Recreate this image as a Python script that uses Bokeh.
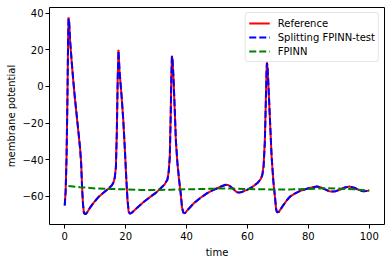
from bokeh.plotting import figure
from bokeh.models import Range1d, FixedTicker, Legend, LegendItem
from bokeh.embed import file_html
from bokeh.resources import INLINE

# ---- data ----
t_reference = [0.0, 0.3, 0.6, 0.9, 1.1, 1.25, 1.45, 1.8, 2.3, 2.8, 3.3, 3.8, 4.3, 4.8, 5.1, 5.4, 5.7, 6.0, 6.3,
               6.8, 7.5, 8.2, 9.5, 11.2, 12.9, 14.5, 15.5, 16.0, 16.4, 16.8, 17.1, 17.4, 17.65, 18.0, 18.6,
               19.2, 19.7, 20.2, 20.6, 21.0, 21.4, 22.0, 23.0, 23.8, 26.0, 28.2, 30.0, 31.5, 32.8, 33.7, 34.1,
               34.5, 34.8, 35.0, 35.2, 35.4, 35.7, 36.1, 36.5, 37.0, 37.6, 38.1, 38.5, 38.9, 39.5, 40.5, 42.4,
               44.6, 46.8, 48.5, 50.1, 51.5, 52.8, 53.6, 54.4, 55.5, 56.5, 57.2, 58.2, 59.9, 61.5, 63.2, 64.4,
               64.9, 65.3, 65.7, 66.0, 66.25, 66.4, 66.6, 66.9, 67.3, 67.9, 68.5, 69.0, 69.4, 69.7, 70.3, 71.5,
               73.0, 74.1, 75.5, 77.4, 78.5, 80.0, 81.5, 82.8, 84.0, 85.5, 86.8, 87.8, 89.0, 90.5, 92.0, 93.5,
               95.0, 96.5, 98.0, 99.0, 100.0]
v_reference = [-65.0, -57.0, -38.0, -5.0, 25.0, 37.7, 35.0, 24.0, 13.0, 3.0, -6.0, -14.0, -22.0, -30.0, -35.0,
               -42.0, -55.0, -64.0, -69.0, -69.8, -68.5, -66.5, -63.5, -60.2, -57.8, -55.6, -54.0, -52.5, -50.0,
               -44.0, -25.0, 5.0, 20.0, 8.0, -4.0, -18.0, -33.0, -50.0, -62.0, -68.5, -69.5, -69.0, -67.5, -66.2,
               -63.0, -60.2, -58.0, -55.6, -53.5, -51.0, -47.0, -38.0, -15.0, 5.0, 16.8, 14.0, 5.0, -12.0, -30.0,
               -42.0, -52.0, -59.0, -66.0, -69.0, -69.2, -67.2, -63.8, -60.8, -58.3, -56.8, -55.6, -54.5, -53.8,
               -53.8, -54.7, -56.3, -57.8, -58.0, -57.6, -56.5, -55.0, -52.9, -50.5, -48.0, -43.0, -30.0, -10.0,
               8.0, 13.2, 10.0, 0.0, -15.0, -37.5, -52.0, -60.0, -67.0, -68.8, -68.5, -65.5, -62.0, -60.0, -58.5,
               -57.0, -56.5, -55.6, -55.0, -54.7, -55.0, -56.2, -57.2, -57.4, -57.2, -56.3, -55.2, -54.7, -55.3,
               -56.5, -57.2, -57.1, -56.9]

t_splitting = t_reference
v_splitting = [-65.0, -57.5, -39.0, -6.0, 24.0, 37.0, 35.5, 24.5, 13.5, 3.5, -5.5, -13.5, -21.5, -29.5, -35.0,
               -42.5, -55.5, -64.5, -69.2, -69.8, -68.5, -66.5, -63.5, -60.2, -57.8, -55.6, -54.0, -52.5, -50.2,
               -44.5, -26.0, 4.0, 19.5, 8.5, -3.5, -17.5, -32.5, -49.5, -61.5, -68.3, -69.5, -69.0, -67.5, -66.2,
               -63.0, -60.2, -58.0, -55.6, -53.5, -51.0, -47.5, -39.0, -16.0, 4.0, 16.5, 14.5, 5.5, -11.5, -29.5,
               -41.5, -51.5, -58.5, -65.5, -68.8, -69.2, -67.2, -63.8, -60.8, -58.3, -56.8, -55.6, -54.5, -53.7,
               -53.7, -54.6, -56.2, -57.7, -58.0, -57.6, -56.5, -55.0, -52.9, -50.6, -48.3, -44.0, -31.0, -11.0,
               7.0, 12.8, 10.5, 0.5, -14.5, -37.0, -51.5, -59.5, -66.7, -68.7, -68.5, -65.5, -62.0, -60.0, -58.5,
               -57.0, -56.5, -55.6, -55.0, -54.7, -55.0, -56.2, -57.2, -57.4, -57.2, -56.3, -55.2, -54.7, -55.3,
               -56.5, -57.2, -57.1, -56.9]

t_fpinn = [1.2, 5, 10, 15, 20, 25, 30, 35, 40, 45, 50, 55, 60, 65, 70, 75, 80, 85, 90, 95, 100]
v_fpinn = [-54.4, -55.0, -55.7, -56.0, -56.2, -56.5, -56.6, -56.4, -56.2, -56.0, -55.8, -55.8, -56.0, -56.2,
           -56.3, -56.2, -56.0, -55.6, -55.8, -56.2, -56.8]

x_ticks = [0, 20, 40, 60, 80, 100]
y_ticks = [-60, -40, -20, 0, 20, 40]

labels = ["Reference", "Splitting FPINN-test", "FPINN"]
x_label = "time"
y_label = "membrane potential"

FONT = "DejaVu Sans"

p = figure(width=391, height=262, output_backend="svg", toolbar_location=None,
           x_range=Range1d(-5, 105), y_range=Range1d(-75.4, 43.1),
           min_border_left=49, min_border_right=7, min_border_top=7, min_border_bottom=38)

p.background_fill_color = "white"
p.border_fill_color = "white"
p.outline_line_color = "black"
p.outline_line_width = 1
p.xgrid.visible = False
p.ygrid.visible = False

r_ref = p.line(t_reference, v_reference, line_color="red", line_width=2)
r_spl = p.line(t_splitting, v_splitting, line_color="blue", line_width=2, line_dash="7 3")
r_fp = p.line(t_fpinn, v_fpinn, line_color="green", line_width=2, line_dash="7 3")

for ax, ticks in ((p.xaxis[0], x_ticks), (p.yaxis[0], y_ticks)):
    ax.ticker = FixedTicker(ticks=ticks)
    ax.minor_tick_line_color = None
    ax.major_tick_in = 0
    ax.major_tick_out = 4
    ax.major_tick_line_color = "black"
    ax.axis_line_color = None
    ax.major_label_text_font = FONT
    ax.major_label_text_font_size = "10px"
    ax.major_label_text_color = "black"
    ax.axis_label_text_font = FONT
    ax.axis_label_text_font_size = "10px"
    ax.axis_label_text_font_style = "normal"
    ax.axis_label_text_color = "black"

p.xaxis[0].axis_label = x_label
p.yaxis[0].axis_label = y_label
p.xaxis[0].major_label_standoff = 3
p.xaxis[0].axis_label_standoff = 4
p.yaxis[0].major_label_standoff = 2
p.yaxis[0].axis_label_standoff = 2

legend = Legend(items=[LegendItem(label=labels[0], renderers=[r_ref]),
                       LegendItem(label=labels[1], renderers=[r_spl]),
                       LegendItem(label=labels[2], renderers=[r_fp])],
                location="top_right")
legend.margin = 5
legend.padding = 3
legend.spacing = 0
legend.glyph_width = 21
legend.glyph_height = 14
legend.label_height = 14
legend.label_standoff = 8
legend.label_text_font = FONT
legend.label_text_font_size = "10px"
legend.label_text_color = "black"
legend.border_line_color = "#cccccc"
legend.border_line_width = 1
legend.border_radius = 3
legend.background_fill_color = "white"
legend.background_fill_alpha = 0.8
p.add_layout(legend)

open("out.html", "w").write(file_html(p, INLINE))
